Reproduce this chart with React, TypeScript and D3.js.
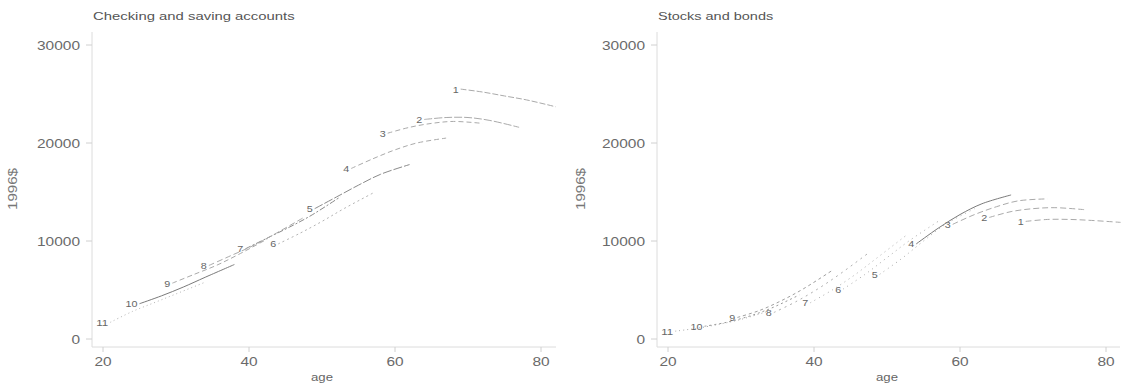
import * as d3 from 'd3';

const W = 1123;
const H = 387;

// cohort labels, first age observed, and age offsets of each observation
const cohortLabels = ['1', '2', '3', '4', '5', '6', '7', '8', '9', '10', '11'];
const cohortStart = [69, 64, 59, 54, 49, 44, 39.5, 34.5, 29.5, 25, 21];
const ageOffsets = [0, 3, 6, 9, 13];

const checkingValues = [
    [25500, 25200, 24800, 24400, 23700],
    [22400, 22600, 22600, 22300, 21600],
    [21000, 21600, 22000, 22200, 22000],
    [17400, 18400, 19300, 20000, 20500],
    [13300, 14500, 15700, 16800, 17800],
    [9700, 10800, 12000, 13300, 14900],
    [9200, 10300, 11400, 12600, 14500],
    [7500, 8500, 9500, 10700, 12400],
    [5700, 6600, 7500, 8600, 10200],
    [3600, 4400, 5300, 6300, 7600],
    [1700, 2800, 3700, 4600, 5800],
];

const stocksValues = [
    [12000, 12200, 12200, 12100, 11900],
    [12400, 13000, 13300, 13400, 13200],
    [11700, 12700, 13500, 14100, 14300],
    [9700, 11300, 12700, 13800, 14700],
    [6600, 8200, 10000, 11700, 13300],
    [5100, 6600, 8300, 10000, 12000],
    [3700, 5000, 6500, 8200, 10500],
    [2700, 3800, 5100, 6600, 8800],
    [2200, 2900, 3900, 5100, 7000],
    [1300, 1700, 2300, 3100, 4500],
    [800, 1100, 1500, 2000, 2900],
];

const xTicks = [20, 40, 60, 80];
const yTicks = [0, 10000, 20000, 30000];

const checkingDashes = ['6,2', '8,2', '5,3', '5,3', '9,2', '2,3', '6,2,2,2', '6,3', '5,3', 'none', '1,3'];
const checkingStrokes = ['#aaa', '#aaa', '#aaa', '#aaa', '#8a8a8a', '#b4b4b4', '#8a8a8a', '#aaa', '#aaa', '#7a7a7a', '#b4b4b4'];
const stocksDashes = ['6,3', '6,3', '6,3', 'none', '1,4', '1,4', '1,4', '2,4', '3,3', '2,3', '1,3'];
const stocksStrokes = ['#aaa', '#aaa', '#aaa', '#7a7a7a', '#aaa', '#aaa', '#aaa', '#b0b0b0', '#a0a0a0', '#999', '#aaa'];

const FONT = '"Liberation Sans", Arial, sans-serif';

interface PanelProps {
    title: string;
    values: number[][];
    dashes: string[];
    strokes: string[];
    axisX: number;
    x0: number;
    rightEdge: number;
    yLabelX: number;
}

function Panel({ title, values, dashes, strokes, axisX, x0, rightEdge, yLabelX }: PanelProps) {
    const x = d3.scaleLinear().domain([20, 80]).range([x0, x0 + 438]);
    const y = d3.scaleLinear().domain([0, 30000]).range([339, 45]);
    const line = d3
        .line<[number, number]>()
        .x((d) => x(d[0]))
        .y((d) => y(d[1]))
        .curve(d3.curveCatmullRom);

    const baseY = 347;

    return (
        <g>
            <text
                x={axisX + 1}
                y={20}
                fontSize={11}
                fill="#555"
                textLength={title.length * 7.2}
                lengthAdjust="spacingAndGlyphs"
            >
                {title}
            </text>

            {/* axes */}
            <line x1={axisX} x2={axisX} y1={32} y2={baseY} stroke="#dcdcdc" />
            <line x1={axisX} x2={rightEdge} y1={baseY} y2={baseY} stroke="#dcdcdc" />

            {yTicks.map((t) => (
                <g key={t}>
                    <line x1={axisX - 6} x2={axisX} y1={y(t)} y2={y(t)} stroke="#d0d0d0" />
                    <text
                        x={axisX - 12 - String(t).length * 8.6}
                        y={y(t) + 4.5}
                        fontSize={12}
                        fill="#6a6a6a"
                        textLength={String(t).length * 8.6}
                        lengthAdjust="spacingAndGlyphs"
                    >
                        {t}
                    </text>
                </g>
            ))}

            {xTicks.map((t) => (
                <g key={t}>
                    <line x1={x(t)} x2={x(t)} y1={baseY} y2={baseY + 5} stroke="#d0d0d0" />
                    <text
                        x={x(t) - 8.6}
                        y={366}
                        fontSize={12}
                        fill="#6a6a6a"
                        textLength={17.2}
                        lengthAdjust="spacingAndGlyphs"
                    >
                        {t}
                    </text>
                </g>
            ))}

            <text
                x={x(50) - 11}
                y={381}
                fontSize={11}
                fill="#666"
                textLength={22}
                lengthAdjust="spacingAndGlyphs"
            >
                age
            </text>

            <text
                transform={`translate(${yLabelX},${189}) rotate(-90)`}
                x={-21}
                fontSize={12}
                fill="#777"
                textLength={42}
                lengthAdjust="spacingAndGlyphs"
            >
                1996$
            </text>

            {values.map((vals, i) => {
                const pts: [number, number][] = vals.map((v, j) => [cohortStart[i] + ageOffsets[j], v]);
                const lbl = cohortLabels[i];
                return (
                    <g key={i}>
                        <path
                            d={line(pts) ?? ''}
                            fill="none"
                            stroke={strokes[i]}
                            strokeWidth={1}
                            strokeDasharray={dashes[i]}
                        />
                        <text
                            x={x(cohortStart[i]) - 2}
                            y={y(vals[0]) + 3.5}
                            textAnchor="end"
                            fontSize={9.5}
                            fill="#666"
                            textLength={lbl.length * 6}
                            lengthAdjust="spacingAndGlyphs"
                        >
                            {lbl}
                        </text>
                    </g>
                );
            })}
        </g>
    );
}

export default function App() {
    return (
        <svg
            width={W}
            height={H}
            style={{ position: 'absolute', left: 0, top: 0, background: '#fff' }}
            fontFamily={FONT}
        >
            <rect width={W} height={H} fill="#fff" />
            <Panel
                title="Checking and saving accounts"
                values={checkingValues}
                dashes={checkingDashes}
                strokes={checkingStrokes}
                axisX={92}
                x0={103}
                rightEdge={556}
                yLabelX={17}
            />
            <Panel
                title="Stocks and bonds"
                values={stocksValues}
                dashes={stocksDashes}
                strokes={stocksStrokes}
                axisX={657}
                x0={668}
                rightEdge={1120}
                yLabelX={585}
            />
        </svg>
    );
}
